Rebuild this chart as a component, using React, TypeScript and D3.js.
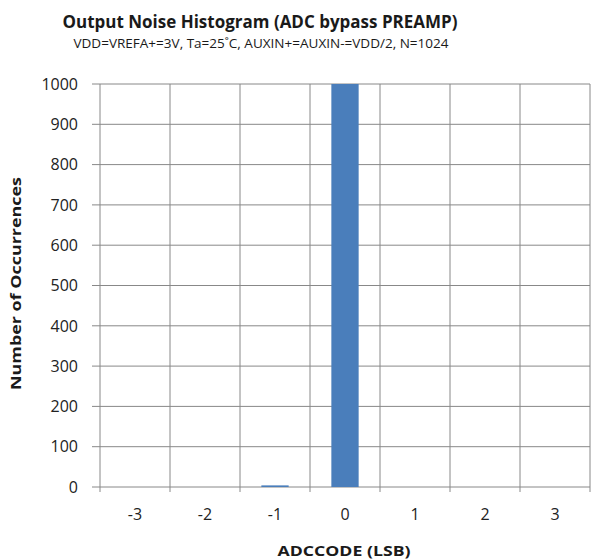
import React from "react";
import * as d3 from "d3";

const categories = ["-3", "-2", "-1", "0", "1", "2", "3"];
const counts = [0, 0, 4, 1020, 0, 0, 0];
const yTicks = [0, 100, 200, 300, 400, 500, 600, 700, 800, 900, 1000];

const W = 592;
const H = 559;
const FONT = "'Open Sans', 'Liberation Sans', sans-serif";

export default function App() {
  const left = 100, right = 590, top = 84, bottom = 487;
  const x = d3.scaleBand().domain(categories).range([left, right]).paddingInner(0).paddingOuter(0);
  const y = d3.scaleLinear().domain([0, 1000]).range([bottom, top]);
  const bw = x.bandwidth() * 0.39;
  const grid = "#888888";
  return (
    <svg width={W} height={H} style={{ position: "absolute", left: 0, top: 0, background: "#fff" }}>
      <text x={260} y={28} textAnchor="middle" fontFamily={FONT} fontWeight="bold" fontSize={18.5} textLength={395} lengthAdjust="spacingAndGlyphs" fill="#1a1a1a">
        Output Noise Histogram (ADC bypass PREAMP)
      </text>
      <text x={261} y={48} textAnchor="middle" fontFamily={FONT} fontSize={12.5} textLength={375} lengthAdjust="spacingAndGlyphs" fill="#1a1a1a">
        VDD=VREFA+=3V, Ta=25˚C, AUXIN+=AUXIN-=VDD/2, N=1024
      </text>
      {yTicks.map((t) => (
        <g key={"y" + t}>
          <line x1={left - 8} x2={right} y1={y(t)} y2={y(t)} stroke={grid} strokeWidth={1} />
          <text x={78} y={y(t)} dy="0.36em" textAnchor="end" fontFamily={FONT} fontSize={16} fill="#222">{t}</text>
        </g>
      ))}
      {categories.map((c) => (
        <line key={"v" + c} x1={x(c)!} x2={x(c)!} y1={top} y2={bottom + 5} stroke={grid} strokeWidth={1} />
      ))}
      <line x1={right} x2={right} y1={top} y2={bottom + 5} stroke={grid} strokeWidth={1} />
      {categories.map((c, i) => {
        const v = Math.min(counts[i], 1000);
        if (counts[i] <= 0) return null;
        const cx = x(c)! + x.bandwidth() / 2;
        return <rect key={"b" + c} x={cx - bw / 2} y={y(v)} width={bw} height={bottom - y(v)} fill="#4a7ebb" />;
      })}
      {categories.map((c) => (
        <text key={"xl" + c} x={x(c)! + x.bandwidth() / 2} y={520} textAnchor="middle" fontFamily={FONT} fontSize={16} fill="#222">{c}</text>
      ))}
      <text x={344} y={556} textAnchor="middle" fontFamily={FONT} fontWeight="bold" fontSize={15} textLength={133} lengthAdjust="spacingAndGlyphs" fill="#1a1a1a">
        ADCCODE (LSB)
      </text>
      <text transform={`translate(21,${283.5}) rotate(-90)`} textAnchor="middle" fontFamily={FONT} fontWeight="bold" fontSize={15} textLength={213} lengthAdjust="spacingAndGlyphs" fill="#1a1a1a">
        Number of Occurrences
      </text>
    </svg>
  );
}
